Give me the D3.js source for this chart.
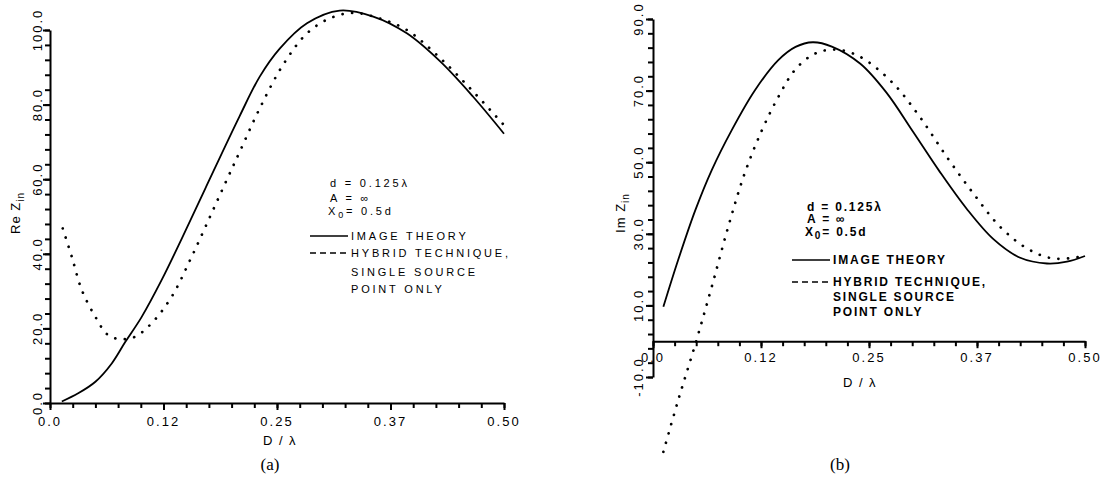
<!DOCTYPE html>
<html>
<head>
<meta charset="utf-8">
<script src="https://cdn.jsdelivr.net/npm/d3@7"></script>
<style>
  body { margin: 0; background: #fff; }
  svg { display: block; background: #fff; }
  .tickText { font-family: "Liberation Sans", Arial, sans-serif; font-size: 13px; letter-spacing: 2px; fill: #000; }
  .legendText { font-family: "Liberation Sans", Arial, sans-serif; fill: #000; }
  .caption { font-family: "Liberation Serif", "Times New Roman", serif; font-size: 17px; fill: #000; }
</style>
</head>
<body>
<div id="chart"></div>
<script>
// x axis (D / lambda), shared by both panels
const xTickValues = [0, 0.125, 0.25, 0.375, 0.5];
const xTickLabels = ["0.0", "0.12", "0.25", "0.37", "0.50"];

// panel (a): Re Z_in
const reTickValues = [0, 20, 40, 60, 80, 100];
const reTickLabels = ["0.0", "20.0", "40.0", "60.0", "80.0", "100.0"];
const reImageD = [0.013, 0.031, 0.050, 0.068, 0.083, 0.101, 0.123, 0.145, 0.171, 0.209, 0.231, 0.253, 0.283, 0.319, 0.356, 0.393, 0.430, 0.466, 0.500];
const reImageZ = [0.4, 2.6, 5.7, 10.6, 16.4, 23.1, 33.0, 44.0, 57.5, 77.0, 87.5, 95.0, 101.8, 105.2, 103.6, 99.1, 91.5, 82.1, 72.2];
const reHybridD = [0.014, 0.024, 0.035, 0.050, 0.064, 0.079, 0.094, 0.112, 0.134, 0.156, 0.178, 0.195, 0.209, 0.231, 0.257, 0.283, 0.308, 0.334, 0.363, 0.393, 0.430, 0.466, 0.500];
const reHybridZ = [46.8, 39.2, 30.3, 23.1, 18.2, 17.1, 17.8, 21.4, 28.5, 39.2, 50.9, 60.0, 67.4, 79.0, 90.8, 99.1, 103.1, 104.6, 103.1, 100.0, 92.4, 83.5, 74.5];

// panel (b): Im Z_in
const imTickValues = [-10, 10, 30, 50, 70, 90];
const imTickLabels = ["-10.0", "10.0", "30.0", "50.0", "70.0", "90.0"];
const imImageD = [0.012, 0.029, 0.049, 0.068, 0.091, 0.118, 0.145, 0.165, 0.185, 0.207, 0.240, 0.270, 0.301, 0.332, 0.363, 0.394, 0.425, 0.456, 0.479, 0.500];
const imImageZ = [9.6, 22.6, 36.6, 47.8, 58.9, 70.1, 78.5, 82.2, 83.5, 82.3, 77.5, 69.5, 58.5, 47.3, 37.0, 28.5, 23.3, 21.7, 22.2, 23.8];
const imHybridD = [0.012, 0.029, 0.049, 0.068, 0.087, 0.106, 0.126, 0.145, 0.164, 0.184, 0.201, 0.220, 0.243, 0.278, 0.309, 0.340, 0.371, 0.402, 0.433, 0.463, 0.500];
const imHybridZ = [-30.9, -16.6, -0.8, 15.2, 31.9, 46.8, 58.9, 68.2, 75.7, 79.9, 81.3, 81.2, 79.0, 72.0, 62.6, 51.5, 41.2, 31.9, 25.9, 23.1, 23.8];

// legend text
const legendParams = ["d = 0.125\u03bb", "A = \u221e", "X"];
const legendImage = "IMAGE THEORY";
const legendHybrid = ["HYBRID TECHNIQUE,", "SINGLE SOURCE", "POINT ONLY"];

/** One panel of the figure */
class ImpedancePanel {

    /**
     * @param svg parent svg selection
     * @param opts layout for this panel
     */
    constructor(svg, opts){
        this.svg = svg;
        this.opts = opts;
        this.g = svg.append("g");
        this.x = d3.scaleLinear().domain([0, 0.5]).range([opts.left, opts.right]);
        this.y = d3.scaleLinear().domain(opts.yDomain).range([opts.bottom, opts.top]);
    }

    // make axis ticks/domain plain black
    styleAxis(s, w){
        s.select(".domain").attr("stroke", "#000").attr("stroke-width", 2);
        s.selectAll(".tick line").attr("stroke", "#000").attr("stroke-width", w);
    }

    drawAxes(){
        let o = this.opts, x = this.x, y = this.y, g = this.g;
        let y0 = y(o.xAxisAt);

        // x axis: minor ticks then labelled ticks
        g.append("g").attr("transform", `translate(0,${y0})`)
            .call(d3.axisBottom(x).tickValues(d3.range(0, 0.5001, 0.025)).tickSizeInner(5).tickSizeOuter(0).tickFormat(""))
            .call(s => this.styleAxis(s, 2));
        g.append("g").attr("transform", `translate(0,${y0})`)
            .call(d3.axisBottom(x).tickValues(xTickValues).tickSizeInner(7).tickSizeOuter(0).tickFormat(""))
            .call(s => { this.styleAxis(s, 2); s.select(".domain").remove(); });

        g.selectAll(".xLabel").data(xTickValues).enter().append("text")
            .attr("class", "tickText xLabel")
            .attr("x", d => x(d))
            .attr("y", y0 + o.xLabelDy)
            .attr("text-anchor", "middle")
            .text((d, i) => xTickLabels[i]);

        // y axis
        let [ymin, ymax] = o.yDomain;
        g.append("g").attr("transform", `translate(${o.left},0)`)
            .call(d3.axisLeft(y).tickValues(d3.range(ymin, ymax + 0.01, 4)).tickSizeInner(5).tickSizeOuter(0).tickFormat(""))
            .call(s => this.styleAxis(s, 2));
        g.append("g").attr("transform", `translate(${o.left},0)`)
            .call(d3.axisLeft(y).tickValues(o.yTickValues).tickSizeInner(7).tickSizeOuter(0).tickFormat(""))
            .call(s => { this.styleAxis(s, 2); s.select(".domain").remove(); });

        g.selectAll(".yLabel").data(o.yTickValues).enter().append("text")
            .attr("class", "tickText yLabel")
            .attr("transform", d => `translate(${o.left - o.yLabelDx},${y(d)}) rotate(-90)`)
            .attr("text-anchor", "middle")
            .text((d, i) => o.yTickLabels[i]);

        // axis titles
        let yt = g.append("text").attr("class", "legendText")
            .attr("transform", `translate(${o.yTitle[0]},${o.yTitle[1]}) rotate(-90)`)
            .attr("text-anchor", "middle")
            .style("font-size", "13px").style("letter-spacing", "1px");
        yt.append("tspan").text(o.yName + " Z");
        yt.append("tspan").attr("dy", 4).style("font-size", "10px").text("in");

        g.append("text").attr("class", "legendText")
            .attr("x", o.xTitle[0]).attr("y", o.xTitle[1])
            .attr("text-anchor", "middle")
            .style("font-size", "13px").style("letter-spacing", "1.5px")
            .text("D / \u03bb");

        g.append("text").attr("class", "caption")
            .attr("x", o.caption[0]).attr("y", o.caption[1])
            .attr("text-anchor", "middle")
            .text(o.captionText);
    }

    drawCurves(imageD, imageZ, hybridD, hybridZ){
        let line = d3.line().x(d => this.x(d[0])).y(d => this.y(d[1])).curve(d3.curveCatmullRom.alpha(0.5));

        this.g.append("path")
            .datum(d3.zip(imageD, imageZ))
            .attr("d", line)
            .attr("fill", "none").attr("stroke", "#000").attr("stroke-width", 1.8);

        this.g.append("path")
            .datum(d3.zip(hybridD, hybridZ))
            .attr("d", line)
            .attr("fill", "none").attr("stroke", "#000").attr("stroke-width", 2.7)
            .attr("stroke-linecap", "round").attr("stroke-dasharray", "0.1,9.5");
    }

    drawLegend(){
        let L = this.opts.legend;
        let g = this.g.append("g").attr("class", "legendText")
            .style("font-size", L.size + "px").style("letter-spacing", L.ls + "px")
            .style("font-weight", L.weight);

        g.append("text").attr("x", L.px).attr("y", L.rows[0]).text(legendParams[0]);
        g.append("text").attr("x", L.px).attr("y", L.rows[1]).text(legendParams[1]);
        let xo = g.append("text").attr("x", L.px - 2).attr("y", L.rows[2]);
        xo.append("tspan").text(legendParams[2]);
        xo.append("tspan").attr("dy", 3).style("font-size", (L.size - 2) + "px").text("0");
        xo.append("tspan").attr("dy", -3).text("= 0.5d");

        g.append("line").attr("x1", L.lx[0]).attr("x2", L.lx[1])
            .attr("y1", L.rows[3] - 4).attr("y2", L.rows[3] - 4)
            .attr("stroke", "#000").attr("stroke-width", 1.6);
        g.append("text").attr("x", L.tx).attr("y", L.rows[3]).text(legendImage);

        g.append("line").attr("x1", L.lx[0]).attr("x2", L.lx[1])
            .attr("y1", L.rows[4] - 4).attr("y2", L.rows[4] - 4)
            .attr("stroke", "#000").attr("stroke-width", 1.6).attr("stroke-dasharray", "6,4");
        legendHybrid.forEach((t, i) => {
            g.append("text").attr("x", L.tx).attr("y", L.rows[4 + i]).text(t);
        });
    }
}

let svg = d3.select("#chart").append("svg").attr("width", 1101).attr("height", 479);

let panelA = new ImpedancePanel(svg, {
    left: 50, right: 504, top: 30, bottom: 403,
    yDomain: [0, 100], xAxisAt: 0,
    yTickValues: reTickValues, yTickLabels: reTickLabels,
    xLabelDy: 23, yLabelDx: 8,
    yName: "Re", yTitle: [20, 213], xTitle: [280, 445],
    caption: [270, 470], captionText: "(a)",
    legend: { size: 11, ls: 2.8, weight: "normal", px: 330, tx: 351, lx: [310, 348],
              rows: [187, 202, 215, 240, 257, 276, 293] }
});
panelA.drawAxes();
panelA.drawCurves(reImageD, reImageZ, reHybridD, reHybridZ);
panelA.drawLegend();

let panelB = new ImpedancePanel(svg, {
    left: 653, right: 1085, top: 19, bottom: 377,
    yDomain: [-10, 90], xAxisAt: 0,
    yTickValues: imTickValues, yTickLabels: imTickLabels,
    xLabelDy: 21, yLabelDx: 10,
    yName: "Im", yTitle: [625, 213], xTitle: [860, 387],
    caption: [840, 470], captionText: "(b)",
    legend: { size: 12, ls: 1.8, weight: "bold", px: 807, tx: 833, lx: [792, 830],
              rows: [211, 223, 236, 264, 286, 301, 316] }
});
panelB.drawAxes();
panelB.drawCurves(imImageD, imImageZ, imHybridD, imHybridZ);
panelB.drawLegend();
</script>
</body>
</html>
